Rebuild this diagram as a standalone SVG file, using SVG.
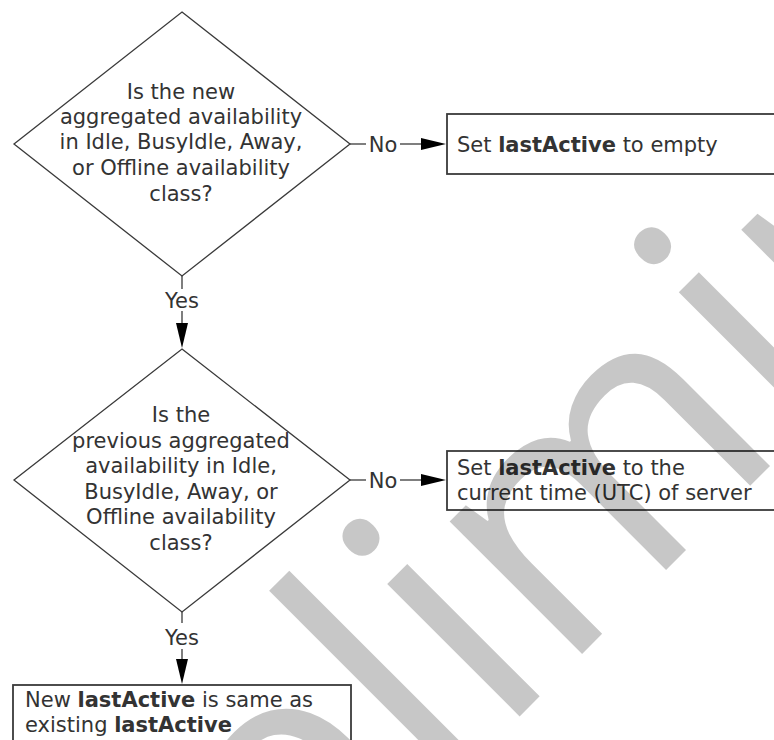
<svg xmlns="http://www.w3.org/2000/svg" width="774" height="740" viewBox="0 0 774 740">
  <style>
    .t { font-family: "DejaVu Sans", Verdana, sans-serif; font-size: 21px; fill: #333333; }
    .c { text-anchor: middle; }
    .b { font-weight: bold; }
    .shape { fill: none; stroke: #3a3a3a; stroke-width: 1.3; }
    .box { fill: none; stroke: #3a3a3a; stroke-width: 1.8; }
    .line { fill: none; stroke: #3a3a3a; stroke-width: 1.3; }
    .head { fill: #000000; stroke: none; }
    .wm { font-family: "Open Sans", "Noto Sans", sans-serif; font-size: 350px; fill: #000000; fill-opacity: 0.22; }
  </style>
  <rect x="0" y="0" width="774" height="740" fill="#ffffff"/>

  <g id="decision1">
    <polygon class="shape" points="182,12 350,144 182,276 14,144"/>
    <text class="t c" x="181" y="99">Is the new</text>
    <text class="t c" x="181" y="123.5">aggregated availability</text>
    <text class="t c" x="181" y="149">in Idle, BusyIdle, Away,</text>
    <text class="t c" x="181" y="175">or Offline availability</text>
    <text class="t c" x="181" y="201">class?</text>
  </g>

  <g id="action1">
    <rect class="box" x="447" y="114" width="340" height="60"/>
    <text class="t" x="457" y="152">Set <tspan class="b">lastActive</tspan> to empty</text>
  </g>

  <g id="decision2">
    <polygon class="shape" points="182,349 350,480 182,612 14,480"/>
    <text class="t c" x="181" y="422">Is the</text>
    <text class="t c" x="181" y="447.5">previous aggregated</text>
    <text class="t c" x="181" y="473">availability in Idle,</text>
    <text class="t c" x="181" y="498.5">BusyIdle, Away, or</text>
    <text class="t c" x="181" y="524">Offline availability</text>
    <text class="t c" x="181" y="549.5">class?</text>
  </g>

  <g id="action2">
    <rect class="box" x="447" y="451" width="340" height="59"/>
    <text class="t" x="457" y="475">Set <tspan class="b">lastActive</tspan> to the</text>
    <text class="t" x="457" y="500">current time (UTC) of server</text>
  </g>

  <g id="action3">
    <rect class="box" x="13" y="685" width="338" height="80"/>
    <text class="t" x="25" y="707">New <tspan class="b">lastActive</tspan> is same as</text>
    <text class="t" x="25" y="732">existing <tspan class="b">lastActive</tspan></text>
  </g>

  <g id="connectors">
    <line class="line" x1="350" y1="144" x2="366" y2="144"/>
    <text class="t c" x="383" y="151.5">No</text>
    <line class="line" x1="400" y1="144" x2="423" y2="144"/>
    <polygon class="head" points="421,138 446,144 421,150"/>

    <line class="line" x1="350" y1="480" x2="366" y2="480"/>
    <text class="t c" x="383" y="487.5">No</text>
    <line class="line" x1="400" y1="480" x2="423" y2="480"/>
    <polygon class="head" points="421,474 446,480 421,486"/>

    <line class="line" x1="182" y1="276" x2="182" y2="289"/>
    <text class="t c" x="182" y="308">Yes</text>
    <line class="line" x1="182" y1="311" x2="182" y2="325"/>
    <polygon class="head" points="176,323 182,348 188,323"/>

    <line class="line" x1="182" y1="612" x2="182" y2="623"/>
    <text class="t c" x="182" y="645">Yes</text>
    <line class="line" x1="182" y1="649" x2="182" y2="661"/>
    <polygon class="head" points="176,659 182,684 188,659"/>
  </g>

  <g id="watermark">
    <text class="wm" x="47" y="1189" transform="rotate(-45 47 1189)">Preliminary</text>
  </g>
</svg>
